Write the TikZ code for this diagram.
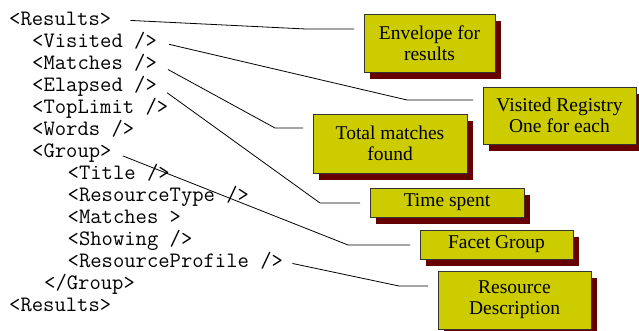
\documentclass[tikz,border=0pt]{standalone}
\usepackage{fontspec}
\newfontfamily\notefont{Liberation Serif}
\newfontfamily\codefont{Latin Modern Mono}
\usetikzlibrary{shadows}
\definecolor{boxyellow}{RGB}{204,204,0}
\definecolor{shadowred}{RGB}{102,0,0}

\begin{document}
\begin{tikzpicture}[x=1pt, y=-1pt,
    xml/.style={anchor=west, inner sep=0pt, text height=12pt, text depth=0pt,
      font=\codefont\fontsize{22}{22}\selectfont},
    note/.style={draw=black!80, line width=0.8pt, fill=boxyellow, align=center,
      inner sep=0pt, font=\notefont\fontsize{19.5}{21}\selectfont,
      drop shadow={shadow xshift=6pt, shadow yshift=-7pt, fill=shadowred, opacity=1}},
    conn/.style={line width=0.8pt, shorten >=9.5pt}]
    \useasboundingbox (0,0) rectangle (639,331);

    % the xml listing
    \node[xml] (res)  at (9,19.5)    {<Results>};
    \node[xml] (vis)  at (32,41.5)   {<Visited />};
    \node[xml] (mat)  at (32,63.5)   {<Matches />};
    \node[xml] (ela)  at (32,85.5)   {<Elapsed />};
    \node[xml] (top)  at (32,107.5)  {<TopLimit />};
    \node[xml] (wor)  at (32,129.5)  {<Words />};
    \node[xml] (grp)  at (32,151.5)  {<Group>};
    \node[xml] (tit)  at (67.5,173.5) {<Title />};
    \node[xml] (rty)  at (67.5,195.5) {<ResourceType />};
    \node[xml] (gmat) at (67.5,217.5) {<Matches >};
    \node[xml] (sho)  at (67.5,239.5) {<Showing />};
    \node[xml] (rpro) at (67.5,261.5) {<ResourceProfile />};
    \node[xml] (egrp) at (44,283.5)  {</Group>};
    \node[xml] (eres) at (9,305.5)   {<Results>};

    % the notes
    \node[note, minimum width=131pt, minimum height=58pt] (env) at (429.5,43)  {Envelope for\\results};
    \node[note, minimum width=153pt, minimum height=57pt] (reg) at (559.5,115.5) {Visited Registry\\One for each};
    \node[note, minimum width=154pt, minimum height=59pt] (tot) at (390,143.5) {Total matches\\found};
    \node[note, minimum width=154pt, minimum height=29pt] (tim) at (447,202.5) {Time spent};
    \node[note, minimum width=153pt, minimum height=29pt] (fac) at (496.5,244.5) {Facet Group};
    \node[note, minimum width=153pt, minimum height=58pt] (des) at (514.5,300) {Resource\\Description};

    % connectors
    \coordinate (k1) at (306,29);
    \coordinate (k2) at (407,100);
    \coordinate (k3) at (275,128);
    \coordinate (k4) at (320,203);
    \coordinate (k5) at (348,245);
    \coordinate (k6) at (399,286);
    \draw[conn, shorten <=19pt] (res.east) -- (k1) -- (env.west |- k1);
    \draw[conn, shorten <=12.5pt] (vis.east) -- (k2) -- (reg.west |- k2);
    \draw[conn, shorten <=12.5pt] (mat.east) -- (k3) -- (tot.west |- k3);
    \draw[conn, shorten <=12.5pt] (ela.east) -- (k4) -- (tim.west |- k4);
    \draw[conn, shorten <=12pt] (grp.east) -- (k5) -- (fac.west |- k5);
    \draw[conn, shorten <=9.5pt] (rpro.east) -- (k6) -- (des.west |- k6);
\end{tikzpicture}
\end{document}
